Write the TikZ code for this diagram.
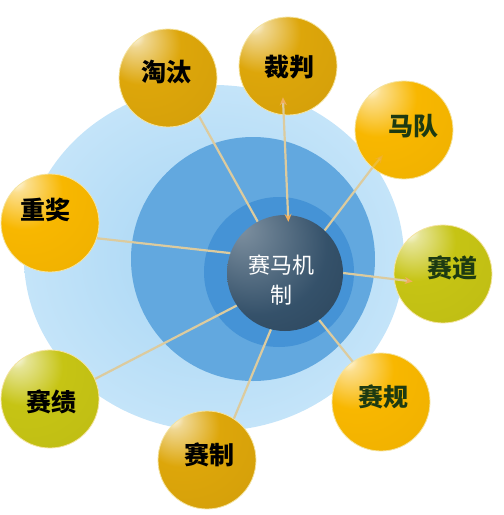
\documentclass[tikz,border=0pt]{standalone}
\usepackage{fontspec}
\newfontfamily\cjk{Noto Sans CJK SC}
\usetikzlibrary{arrows.meta}

\definecolor{skyin}{HTML}{A6D5F4}
\definecolor{skyout}{HTML}{C4E4F9}
\definecolor{midblue}{HTML}{62A8DF}
\definecolor{deepblue}{HTML}{4593D6}
\definecolor{gold}{HTML}{DDA60A}
\definecolor{amber}{HTML}{F8B700}
\definecolor{lime}{HTML}{C6C414}
\definecolor{hubcol}{HTML}{2A4862}
\definecolor{linkcol}{HTML}{DCCB9E}
\definecolor{tipcol}{HTML}{F0AE5C}
\definecolor{rimcol}{HTML}{F4E3A0}
\definecolor{leaf}{HTML}{1D3A12}

% glossy balls, highlight up left
\pgfdeclareradialshading{goldball}{\pgfpoint{-18bp}{22bp}}{color(0bp)=(white); color(5bp)=(gold!45!white); color(20bp)=(gold); color(62bp)=(gold!93!black); color(80bp)=(gold!88!black)}
\pgfdeclareradialshading{amberball}{\pgfpoint{-18bp}{22bp}}{color(0bp)=(white); color(5bp)=(amber!45!white); color(20bp)=(amber); color(62bp)=(amber!94!black); color(80bp)=(amber!90!black)}
\pgfdeclareradialshading{limeball}{\pgfpoint{-18bp}{22bp}}{color(0bp)=(white); color(5bp)=(lime!45!white); color(20bp)=(lime); color(62bp)=(lime!94!black); color(80bp)=(lime!90!black)}
\pgfdeclareradialshading{hubball}{\pgfpoint{-20bp}{20bp}}{color(0bp)=(hubcol!60!white); color(30bp)=(hubcol!95!white); color(75bp)=(hubcol!70!black)}

\begin{document}
\begin{tikzpicture}[x=1pt,y=-1pt,
    ball/.style={circle,minimum size=98pt,inner sep=0pt,shading=#1,draw=rimcol,line width=0.8pt},
    lbl/.style={font=\cjk\bfseries\fontsize{25}{30}\selectfont,text=black,inner sep=0pt},
    link/.style={draw=linkcol,line width=2.2pt},
    tip/.style={-{Stealth[length=8pt,width=7pt,color=tipcol]}},
    twotip/.style={{Stealth[length=8pt,width=7pt,color=tipcol]}-{Stealth[length=8pt,width=7pt,color=tipcol]}}]
    \useasboundingbox (0,0) rectangle (504,515);

    % rings behind the hub
    \shade[inner color=skyin,outer color=skyout] (214,258) ellipse [x radius=190pt,y radius=173pt];
    \fill[midblue] (253,259) circle [radius=122pt];
    \fill[deepblue] (279,272) circle [radius=75pt];

    \node[circle,minimum size=116pt,inner sep=0pt,shading=hubball] (hub) at (285,273) {};
    \node[font=\cjk\fontsize{22}{30}\selectfont,text=white,align=center] (hubtext) at (281,280) {赛马机\\制};

    \node[ball=goldball] (taotai) at (168,78) {};
    \node[ball=goldball] (caipan) at (288,66) {};
    \node[ball=amberball] (madui) at (404,130) {};
    \node[ball=amberball] (zhongjiang) at (50,223) {};
    \node[ball=limeball] (saidao) at (443,274) {};
    \node[ball=limeball] (saiji) at (50,399) {};
    \node[ball=amberball] (saigui) at (381,402) {};
    \node[ball=goldball] (saizhi) at (207,460) {};

    \node[lbl] (taotaitext) at (166,72) {淘汰};
    \node[lbl] (caipantext) at (289,67) {裁判};
    \node[lbl,text=leaf] (maduitext) at (413,126) {马队};
    \node[lbl] (zhongjiangtext) at (45,210) {重奖};
    \node[lbl,text=leaf] (saidaotext) at (452,268) {赛道};
    \node[lbl] (saijitext) at (52,402) {赛绩};
    \node[lbl,text=leaf] (saiguitext) at (383,397) {赛规};
    \node[lbl] (saizhitext) at (209,455) {赛制};

    \coordinate (madtip) at (383,155);
    \draw[link] (hub.118) -- (taotai.-51);
    \draw[link,twotip,shorten >=-18pt,shorten <=-7pt] (hub.87) -- (caipan.-95);
    \draw[link] (hub.47) -- (madui.230);
    \draw[link,tip,opacity=.35] (madui.230) -- (madtip);
    \draw[link] (hub.160) -- (zhongjiang.-18);
    \draw[link,tip,shorten >=-19pt] (hub.0) -- (saidao.186);
    \draw[link] (hub.-146) -- (saiji.24);
    \draw[link] (hub.-54) -- (saigui.125);
    \draw[link] (hub.-104) -- (saizhi.57);
\end{tikzpicture}
\end{document}
